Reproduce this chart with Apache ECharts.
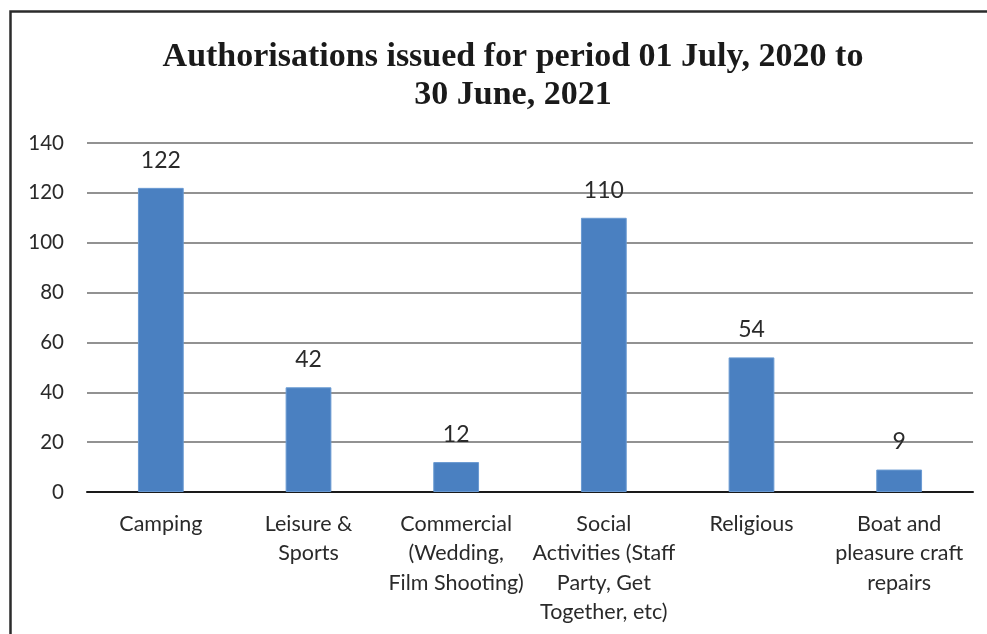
<!DOCTYPE html>
<html><head><meta charset="utf-8">
<script src="https://cdn.jsdelivr.net/npm/echarts@6/dist/echarts.min.js"></script>
<style>html,body{margin:0;padding:0;background:#fff}#c{width:987px;height:634px}</style>
</head><body><div id="c"></div>
<script>
const categories = ["Camping","Leisure &\nSports","Commercial\n(Wedding,\nFilm Shooting)","Social\nActivities (Staff\nParty, Get\nTogether, etc)","Religious","Boat and\npleasure craft\nrepairs"];
const values = [122, 42, 12, 110, 54, 9];
const yTicks = [0, 20, 40, 60, 80, 100, 120, 140];
const titleText = "Authorisations issued for period 01 July, 2020 to\n30 June, 2021";

const chart = echarts.init(document.getElementById('c'), null, {renderer:'canvas'});
chart.setOption({
  animation:false,
  backgroundColor:'#fff',
  graphic:[{type:'rect',shape:{x:10.5,y:11.5,width:1000,height:700},style:{fill:'none',stroke:'#2b2b2b',lineWidth:2.5},z:100}],
  title:{text:titleText,left:508,top:33,textAlign:'center',
    textStyle:{fontFamily:'Liberation Serif',fontWeight:'bold',fontSize:34,lineHeight:38,color:'#1a1a1a'}},
  grid:{left:87,right:14,top:143,bottom:142,containLabel:false},
  xAxis:{type:'category',data:categories,
    axisLine:{lineStyle:{color:'#1a1a1a',width:2}},
    axisTick:{show:false},
    axisLabel:{interval:0,margin:17,fontFamily:'Lato',fontSize:21.5,lineHeight:29.5,color:'#2a2a2a',align:'center'}},
  yAxis:{type:'value',min:yTicks[0],max:yTicks[yTicks.length-1],interval:20,
    axisLine:{show:false},axisTick:{show:false},
    axisLabel:{margin:23,fontFamily:'Lato',fontSize:20.5,color:'#2a2a2a'},
    splitLine:{lineStyle:{color:'#6e6e6e',width:1.5}}},
  series:[{type:'bar',data:values,barWidth:'31%',
    itemStyle:{color:'#4a80c1',borderColor:'#6a9ad2',borderWidth:1},
    label:{show:true,position:'top',distance:16,fontFamily:'Lato',fontSize:23,color:'#2a2a2a'}}]
});
</script></body></html>
